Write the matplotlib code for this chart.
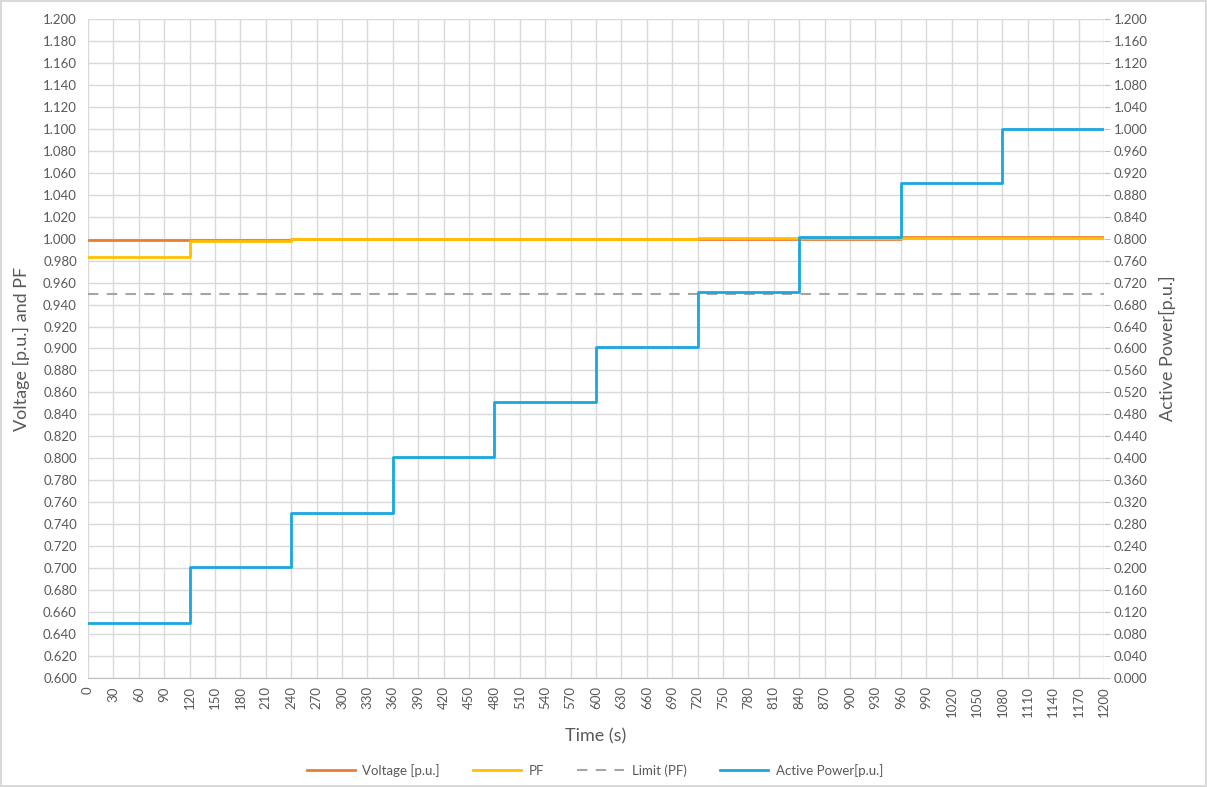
import matplotlib.pyplot as plt
from matplotlib.ticker import FixedLocator, FormatStrFormatter

plt.rcParams['font.family'] = ['Lato', 'DejaVu Sans']

# step boundaries (s)
step_times = [0, 120, 240, 360, 480, 600, 720, 840, 960, 1080, 1200]

# level held during each step
voltage = [0.999, 0.9985, 0.9995, 0.9995, 1.000, 1.000, 1.000, 1.000, 1.0015, 1.0015]
pf = [0.983, 0.998, 0.9995, 1.000, 1.000, 1.000, 1.0005, 1.0005, 1.0008, 1.0008]
active_power = [0.101, 0.202, 0.301, 0.402, 0.502, 0.602, 0.703, 0.803, 0.902, 1.000]
pf_limit = 0.95

x_ticks = list(range(0, 1201, 30))
left_ticks = [round(0.6 + 0.02 * i, 3) for i in range(31)]
right_ticks = [round(0.04 * i, 3) for i in range(31)]

grey = '#595959'

fig = plt.figure(figsize=(12.07, 7.87), dpi=100)
fig.patch.set_edgecolor('#d9d9d9')
fig.patch.set_linewidth(1.5)
ax = fig.add_axes([0.0729, 0.1385, 0.8418, 0.8374])
ax2 = ax.twinx()


def stepped(vals):
    return vals + [vals[-1]]


ax.step(step_times, stepped(pf), where='post', color='#FFC000', lw=2,
        label='PF', zorder=3)
ax.step(step_times, stepped(voltage), where='post', color='#ED7D31', lw=2,
        label='Voltage [p.u.]', zorder=2.5)
ax.axhline(pf_limit, color='#A5A5A5', lw=1.5, ls=(0, (5, 4)), label='Limit (PF)', zorder=2)
ax2.step(step_times, stepped(active_power), where='post', color='#1AA7E0', lw=2,
         label='Active Power[p.u.]', zorder=5)

ax.set_xlim(0, 1200)
ax.set_ylim(0.6, 1.2)
ax2.set_ylim(0.0, 1.2)

ax.xaxis.set_major_locator(FixedLocator(x_ticks))
ax.yaxis.set_major_locator(FixedLocator(left_ticks))
ax2.yaxis.set_major_locator(FixedLocator(right_ticks))
ax.yaxis.set_major_formatter(FormatStrFormatter('%.3f'))
ax2.yaxis.set_major_formatter(FormatStrFormatter('%.3f'))

ax.grid(True, color='#d9d9d9', lw=1)
ax.set_axisbelow(True)

for a in (ax, ax2):
    for s in a.spines.values():
        s.set_visible(False)
ax.spines['bottom'].set_visible(True)
ax.spines['bottom'].set_color('#bfbfbf')

ax.tick_params(axis='x', labelsize=9.5, labelcolor=grey, rotation=90, length=0, pad=6)
ax.tick_params(axis='y', labelsize=9.5, labelcolor=grey, length=0, pad=8)
ax2.tick_params(axis='y', labelsize=9.5, labelcolor=grey, length=4, color='#bfbfbf', pad=3)

ax.set_xlabel('Time (s)', fontsize=13, color=grey, labelpad=8)
ax.set_ylabel('Voltage [p.u.] and PF', fontsize=13, color=grey, labelpad=9)
ax2.set_ylabel('Active Power[p.u.]', fontsize=13, color=grey, labelpad=8)

h1, l1 = ax.get_legend_handles_labels()
h2, l2 = ax2.get_legend_handles_labels()
order = [1, 0, 2]
handles = [h1[i] for i in order] + h2
labels = [l1[i] for i in order] + l2
fig.legend(handles, labels, loc='center', bbox_to_anchor=(0.493, 0.021), ncol=4,
           frameon=False, fontsize=9.5, labelcolor=grey, handlelength=3.6,
           columnspacing=2.5, handletextpad=0.6)

fig.savefig('out.png', dpi=100)
